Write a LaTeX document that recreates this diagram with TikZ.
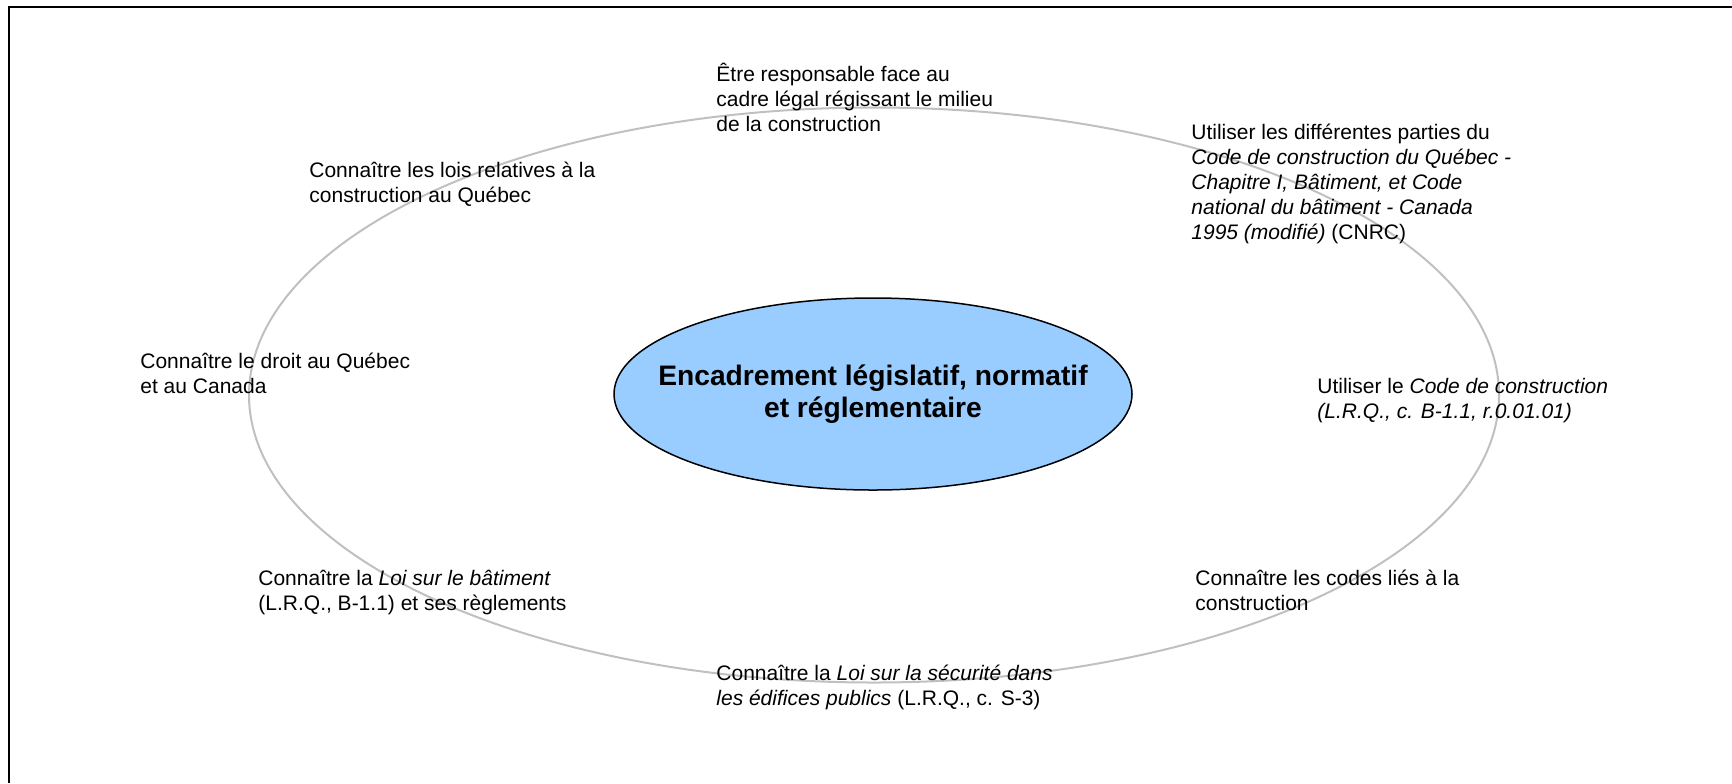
\documentclass[tikz,border=0pt]{standalone}
\usepackage{fontspec}
\setmainfont{Liberation Sans}
\usetikzlibrary{shapes.geometric}
\definecolor{ringgray}{HTML}{C0C0C0}
\definecolor{hubblue}{HTML}{99CCFF}
\newcommand{\stackl}[1]{\vtop{\halign{##\hfil\cr#1\crcr}}}
\begin{document}
\begin{tikzpicture}[x=0.5pt,y=-0.5pt,
  lbl/.style={inner sep=0pt, anchor=base west, font=\fontsize{10.5}{12.5}\selectfont},
  ring/.style={ellipse, draw=ringgray, line width=1pt, minimum width=625pt, minimum height=287.5pt, inner sep=0pt},
  hubshape/.style={ellipse, draw=black, line width=0.75pt, fill=hubblue, minimum width=259pt, minimum height=96pt, inner sep=0pt},
  hubtext/.style={inner sep=0pt, align=center, font=\bfseries\fontsize{14.1}{16}\selectfont},
  frameline/.style={line width=1.25pt, draw=black}]
\useasboundingbox (0,0) rectangle (1732,783);
\coordinate (fa) at (9,783);
\coordinate (fb) at (9,7);
\coordinate (fc) at (1732,7);
\draw[frameline] (fa) -- (fb) -- (fc);
\node[ring] (ring) at (874,395) {};
\node[hubshape] (hub) at (873,394) {};
\node[hubtext] (hubt) at (hub.center) {Encadrement législatif, normatif\\et réglementaire};
\node[lbl] (t1) at (716,81) {\stackl{Être responsable face au\cr cadre légal régissant le milieu\cr de la construction}};
\node[lbl] (t2) at (1191,139) {\stackl{Utiliser les différentes parties du\cr \textit{Code de construction du Québec -}\cr \textit{Chapitre I, Bâtiment, et Code}\cr \textit{national du bâtiment - Canada}\cr \textit{1995 (modifié)} (CNRC)}};
\node[lbl] (t3) at (309,177) {\stackl{Connaître les lois relatives à la\cr construction au Québec}};
\node[lbl] (t4) at (140,368) {\stackl{Connaître le droit au Québec\cr et au Canada}};
\node[lbl] (t5) at (1317,393) {\stackl{Utiliser le \textit{Code de construction}\cr \textit{(L.R.Q., c. B-1.1, r.0.01.01)}}};
\node[lbl] (t6) at (258,585) {\stackl{Connaître la \textit{Loi sur le bâtiment}\cr (L.R.Q., B-1.1) et ses règlements}};
\node[lbl] (t7) at (1195,585) {\stackl{Connaître les codes liés à la\cr construction}};
\node[lbl] (t8) at (716,680) {\stackl{Connaître la \textit{Loi sur la sécurité dans}\cr \textit{les édifices publics} (L.R.Q., c. S-3)}};
\end{tikzpicture}
\end{document}
